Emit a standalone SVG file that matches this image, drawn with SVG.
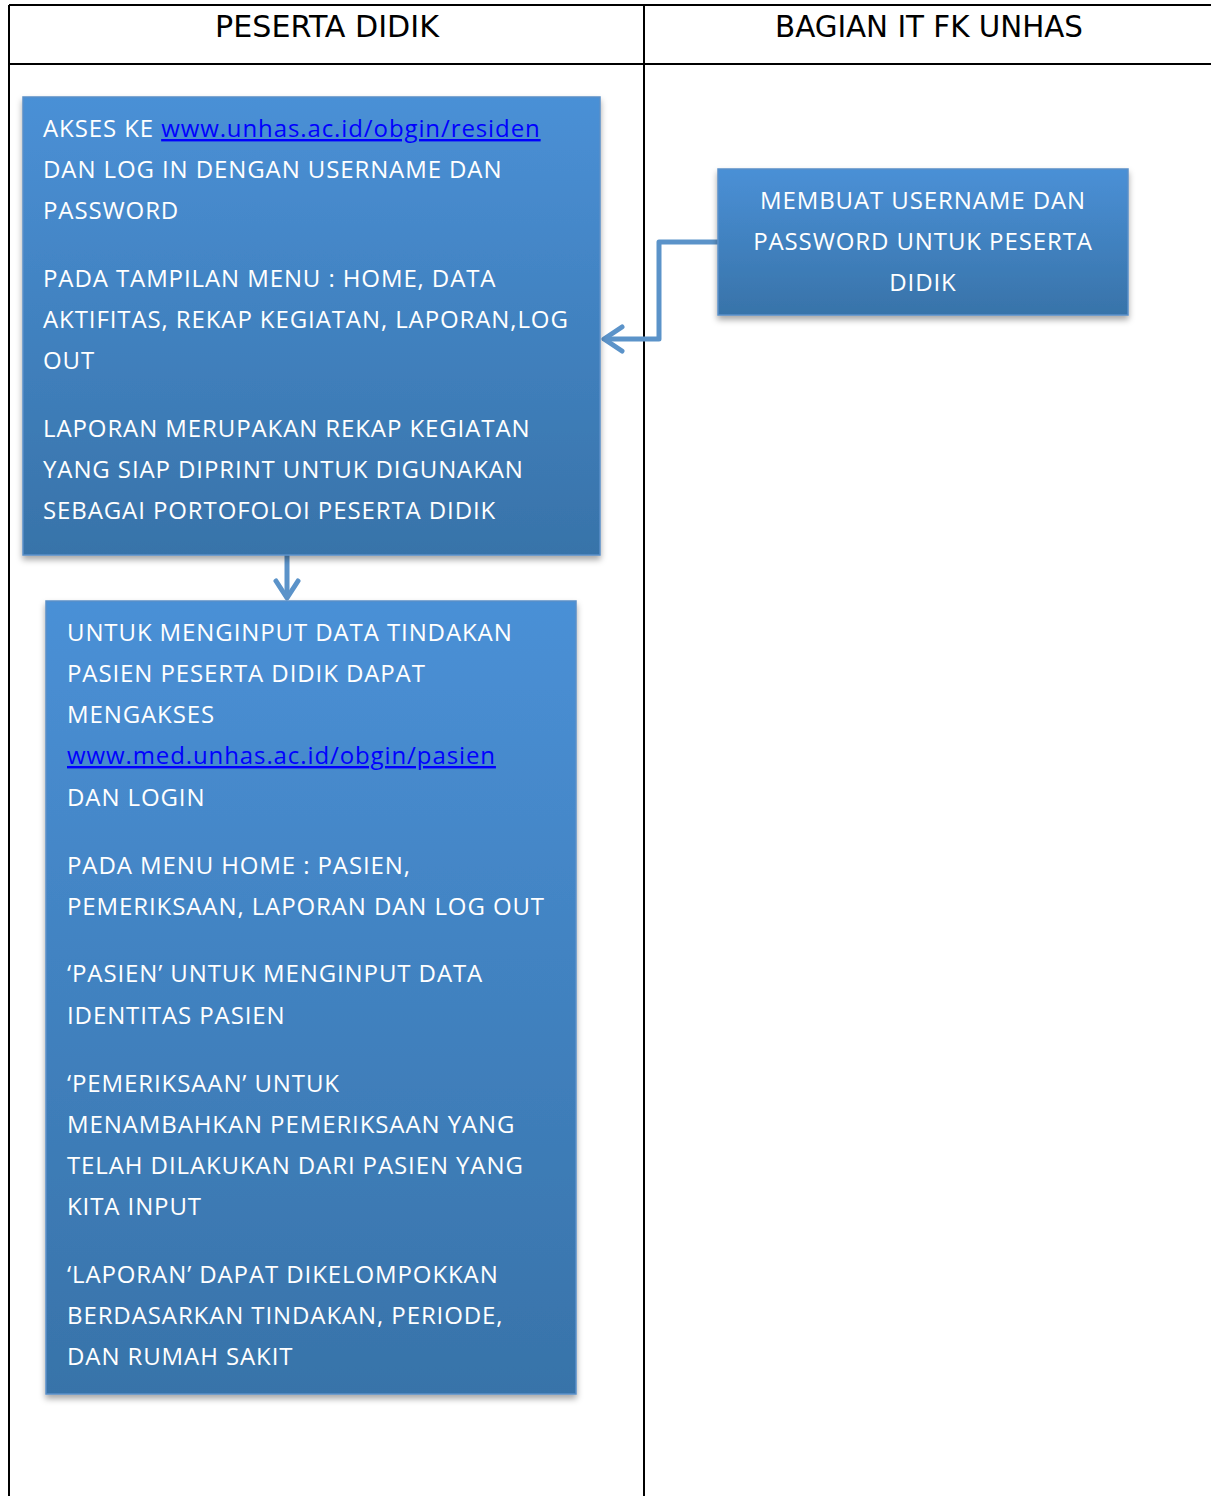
<svg xmlns="http://www.w3.org/2000/svg" width="1211" height="1496" viewBox="0 0 1211 1496">
<style>
.grid{stroke:#000;stroke-width:2;fill:none}
.hdr{font-family:"DejaVu Sans Condensed","DejaVu Sans",sans-serif;font-stretch:condensed;font-size:30px;fill:#000;text-anchor:middle}
.box{stroke:#5a8fc8;stroke-width:1.5}
.t{font-family:"Open Sans","Noto Sans",sans-serif;font-size:24px;letter-spacing:0.9px;fill:#fff}
.c{text-anchor:middle}
.lnk{fill:#0000ff;text-decoration:underline}
.con{stroke:#5b93c9;stroke-width:5;fill:none;stroke-linejoin:round}
</style>
<defs>
<linearGradient id="g" x1="0" y1="0" x2="0" y2="1">
<stop offset="0" stop-color="#4a90d6"/>
<stop offset="1" stop-color="#3873a9"/>
</linearGradient>
<filter id="sh" x="-5%" y="-5%" width="110%" height="115%">
<feDropShadow dx="0" dy="4" stdDeviation="3" flood-color="#000" flood-opacity="0.35"/>
</filter>
</defs>
<rect width="1211" height="1496" fill="#fff"/>
<g id="table">
<line class="grid" x1="9" y1="5" x2="1211" y2="5"/>
<line class="grid" x1="9" y1="64" x2="1211" y2="64"/>
<line class="grid" x1="9" y1="5" x2="9" y2="1496"/>
<line class="grid" x1="644" y1="5" x2="644" y2="1496"/>
<text class="hdr" x="327" y="37" textLength="224" lengthAdjust="spacingAndGlyphs">PESERTA DIDIK</text>
<text class="hdr" x="929" y="37" textLength="308" lengthAdjust="spacingAndGlyphs">BAGIAN IT FK UNHAS</text>
</g>
<g id="connectors">
<path class="con" d="M718 242 H659 V339 H604"/>
<path class="con" d="M622 327 L604 339 L622 351" stroke-linecap="round"/>
<path class="con" d="M287 555 V597"/>
<path class="con" d="M276 581 L287 598 L298 581" stroke-linecap="round"/>
</g>
<g id="node1">
<rect class="box" x="23" y="97" width="577" height="458" fill="url(#g)" filter="url(#sh)"/>
<text class="t" x="43" y="137">AKSES KE <tspan class="lnk">www.unhas.ac.id/obgin/residen</tspan></text>
<text class="t" x="43" y="178">DAN LOG IN DENGAN USERNAME DAN</text>
<text class="t" x="43" y="219">PASSWORD</text>
<text class="t" x="43" y="287">PADA TAMPILAN MENU : HOME, DATA</text>
<text class="t" x="43" y="328">AKTIFITAS, REKAP KEGIATAN, LAPORAN,LOG</text>
<text class="t" x="43" y="369">OUT</text>
<text class="t" x="43" y="437">LAPORAN MERUPAKAN REKAP KEGIATAN</text>
<text class="t" x="43" y="478">YANG SIAP DIPRINT UNTUK DIGUNAKAN</text>
<text class="t" x="43" y="519">SEBAGAI PORTOFOLOI PESERTA DIDIK</text>
</g>
<g id="node3">
<rect class="box" x="718" y="169" width="410" height="146" fill="url(#g)" filter="url(#sh)"/>
<text class="t c" x="923" y="209">MEMBUAT USERNAME DAN</text>
<text class="t c" x="923" y="250">PASSWORD UNTUK PESERTA</text>
<text class="t c" x="923" y="291">DIDIK</text>
</g>
<g id="node2">
<rect class="box" x="46" y="601" width="530" height="793" fill="url(#g)" filter="url(#sh)"/>
<text class="t" x="67" y="641">UNTUK MENGINPUT DATA TINDAKAN</text>
<text class="t" x="67" y="682">PASIEN PESERTA DIDIK DAPAT</text>
<text class="t" x="67" y="723">MENGAKSES</text>
<text class="t lnk" x="67" y="764">www.med.unhas.ac.id/obgin/pasien</text>
<text class="t" x="67" y="806">DAN LOGIN</text>
<text class="t" x="67" y="874">PADA MENU HOME : PASIEN,</text>
<text class="t" x="67" y="915">PEMERIKSAAN, LAPORAN DAN LOG OUT</text>
<text class="t" x="67" y="982">‘PASIEN’ UNTUK MENGINPUT DATA</text>
<text class="t" x="67" y="1024">IDENTITAS PASIEN</text>
<text class="t" x="67" y="1092">‘PEMERIKSAAN’ UNTUK</text>
<text class="t" x="67" y="1133">MENAMBAHKAN PEMERIKSAAN YANG</text>
<text class="t" x="67" y="1174">TELAH DILAKUKAN DARI PASIEN YANG</text>
<text class="t" x="67" y="1215">KITA INPUT</text>
<text class="t" x="67" y="1283">‘LAPORAN’ DAPAT DIKELOMPOKKAN</text>
<text class="t" x="67" y="1324">BERDASARKAN TINDAKAN, PERIODE,</text>
<text class="t" x="67" y="1365">DAN RUMAH SAKIT</text>
</g>
</svg>
